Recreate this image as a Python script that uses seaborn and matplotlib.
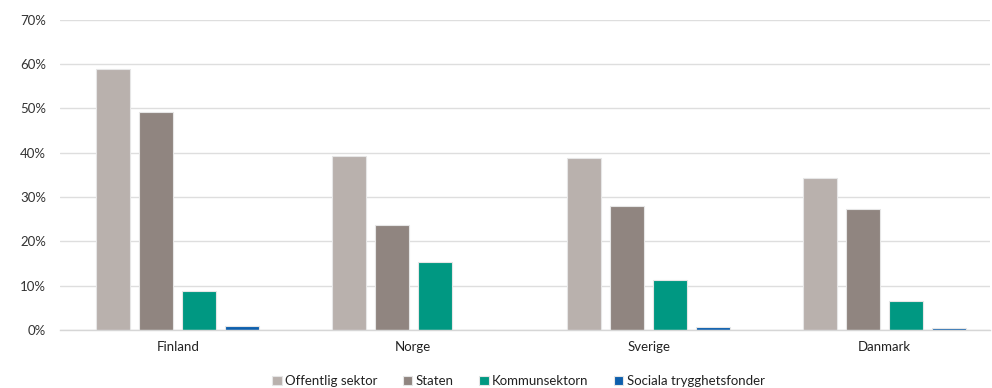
import matplotlib
matplotlib.use("Agg")
import matplotlib.pyplot as plt
import seaborn as sns
import pandas as pd
from matplotlib.ticker import FuncFormatter, MultipleLocator

countries = ["Finland", "Norge", "Sverige", "Danmark"]
series = ["Offentlig sektor", "Staten", "Kommunsektorn", "Sociala trygghetsfonder"]
offentlig = [59.0, 39.3, 38.8, 34.2]
staten = [49.2, 23.7, 28.0, 27.2]
kommun = [8.7, 15.3, 11.3, 6.5]
sociala = [0.9, 0.0, 0.6, 0.4]
colors = ["#b9b1ad", "#908580", "#009882", "#0d5fad"]

rows = []
for name, vals in zip(series, [offentlig, staten, kommun, sociala]):
    for c, v in zip(countries, vals):
        rows.append({"land": c, "serie": name, "andel": v})
df = pd.DataFrame(rows)

sns.set_theme(style="white")
plt.rcParams["font.family"] = ["Lato", "DejaVu Sans"]

fig = plt.figure(figsize=(9.92, 3.88), dpi=100)
ax = fig.add_axes([0.0605, 0.1495, 0.937, 0.7995])

sns.barplot(data=df, x="land", y="andel", hue="serie", order=countries,
            hue_order=series, palette=colors, width=0.73, gap=0.21, ax=ax,
            edgecolor="#e6e6e6", linewidth=0.8, errorbar=None, saturation=1)

ax.set_ylim(0, 70)
ax.set_xlim(-0.50, 3.446)
ax.yaxis.set_major_locator(MultipleLocator(10))
ax.yaxis.set_major_formatter(FuncFormatter(lambda v, p: f"{v:.0f}%"))
ax.grid(axis="y", color="#dedede", linewidth=1.0)
ax.set_axisbelow(True)
for s in ["top", "right", "left"]:
    ax.spines[s].set_visible(False)
ax.spines["bottom"].set_color("#d6d6d6")
ax.spines["bottom"].set_linewidth(1.0)
ax.tick_params(axis="y", length=0, pad=10, labelsize=9.5, labelcolor="#333333")
ax.tick_params(axis="x", length=0, pad=8, labelsize=9.5, labelcolor="#222222")
ax.set_xlabel("")
ax.set_ylabel("")

handles, labels = ax.get_legend_handles_labels()
ax.legend(handles, labels, loc="center", bbox_to_anchor=(0.493, -0.165),
          ncol=4, frameon=False, fontsize=9.5, handlelength=0.75, handleheight=0.75,
          handletextpad=0.25, columnspacing=1.9, labelcolor="#222222")

fig.savefig("out.png", dpi=100)
